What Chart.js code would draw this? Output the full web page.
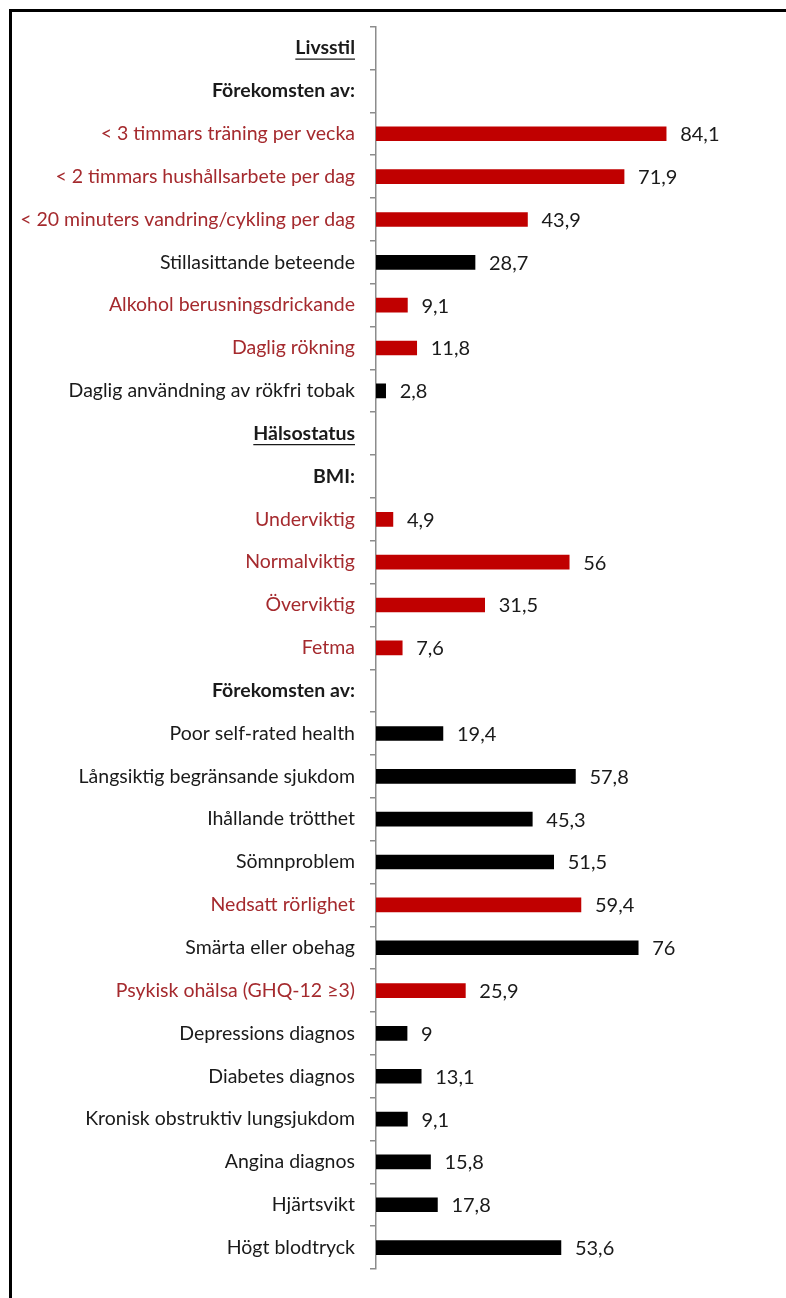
<!DOCTYPE html>
<html>
<head>
<meta charset="utf-8">
<script src="https://cdn.jsdelivr.net/npm/chart.js@4"></script>
<style>
  html, body { margin: 0; padding: 0; background: #fff; }
  #wrap { position: relative; width: 786px; height: 1298px; overflow: hidden; }
  #frame { position: absolute; left: 9px; top: 9px; width: 800px; height: 1300px;
           border-top: 3px solid #000; border-left: 3px solid #000; }
  canvas { position: absolute; left: 0; top: 0; }
</style>
</head>
<body>
<div id="wrap">
  <div id="frame"></div>
  <canvas id="chart" width="786" height="1298"></canvas>
</div>
<script>
// Rows from top to bottom, headers have no value
const labels = [
  "Livsstil",
  "Förekomsten av:",
  "< 3 timmars träning per vecka",
  "< 2 timmars hushållsarbete per dag",
  "< 20 minuters vandring/cykling per dag",
  "Stillasittande beteende",
  "Alkohol berusningsdrickande",
  "Daglig rökning",
  "Daglig användning av rökfri tobak",
  "Hälsostatus",
  "BMI:",
  "Underviktig",
  "Normalviktig",
  "Överviktig",
  "Fetma",
  "Förekomsten av:",
  "Poor self-rated health",
  "Långsiktig begränsande sjukdom",
  "Ihållande trötthet",
  "Sömnproblem",
  "Nedsatt rörlighet",
  "Smärta eller obehag",
  "Psykisk ohälsa (GHQ-12 ≥3)",
  "Depressions diagnos",
  "Diabetes diagnos",
  "Kronisk obstruktiv lungsjukdom",
  "Angina diagnos",
  "Hjärtsvikt",
  "Högt blodtryck"
];

const values = [
  null, null, 84.1, 71.9, 43.9, 28.7, 9.1, 11.8, 2.8,
  null, null, 4.9, 56, 31.5, 7.6,
  null, 19.4, 57.8, 45.3, 51.5, 59.4, 76, 25.9, 9, 13.1, 9.1, 15.8, 17.8, 53.6
];

// row kind: "title" = bold underlined, "head" = bold, "red" = highlighted, "black" = normal
const kinds = [
  "title", "head", "red", "red", "red", "black", "red", "red", "black",
  "title", "head", "red", "red", "red", "red",
  "head", "black", "black", "black", "black", "red", "black", "red", "black", "black", "black", "black", "black", "black"
];

const colors = {
  redBar: "#C00000",
  redText: "#A52A2E",
  black: "#000000",
  text: "#1a1a1a",
  axis: "#8c8c8c"
};

const labelFont = "Lato";

// value labels with decimal comma
const valueLabels = {
  id: "valueLabels",
  afterDatasetsDraw(chart) {
    const ctx = chart.ctx;
    const meta = chart.getDatasetMeta(0);
    ctx.save();
    ctx.font = "20px " + labelFont;
    ctx.fillStyle = colors.text;
    ctx.textAlign = "left";
    ctx.textBaseline = "middle";
    meta.data.forEach((bar, i) => {
      const v = values[i];
      if (v === null) return;
      ctx.fillText(String(v).replace(".", ","), bar.x + 14, bar.y + 1);
    });
    ctx.restore();
  }
};

// underline the section titles
const underline = {
  id: "underline",
  afterDraw(chart) {
    const ctx = chart.ctx;
    const y = chart.scales.y;
    ctx.save();
    ctx.font = "bold 19.5px " + labelFont;
    ctx.strokeStyle = colors.text;
    ctx.lineWidth = 1.2;
    kinds.forEach((k, i) => {
      if (k !== "title") return;
      const right = y.right - 6 - 15;
      const w = ctx.measureText(labels[i]).width;
      const py = y.getPixelForTick(i) + 11;
      ctx.beginPath();
      ctx.moveTo(right - w, py);
      ctx.lineTo(right, py);
      ctx.stroke();
    });
    ctx.restore();
  }
};

new Chart(document.getElementById("chart"), {
  type: "bar",
  data: {
    labels: labels,
    datasets: [{
      data: values,
      backgroundColor: kinds.map(k => k === "red" ? colors.redBar : colors.black),
      barThickness: 14
    }]
  },
  options: {
    indexAxis: "y",
    responsive: false,
    animation: false,
    layout: { padding: { left: 10, right: 65, top: 25, bottom: 29 } },
    plugins: { legend: { display: false }, tooltip: { enabled: false } },
    scales: {
      x: {
        display: false,
        min: 0,
        max: 100
      },
      y: {
        afterFit: (scale) => { scale.width = 366; },
        border: { display: true, color: colors.axis, width: 1.5 },
        grid: {
          offset: true,
          drawOnChartArea: false,
          color: colors.axis,
          tickLength: 6,
          lineWidth: 1.5
        },
        ticks: {
          padding: 15,
          autoSkip: false,
          color: (c) => kinds[c.index] === "red" ? colors.redText : colors.text,
          font: (c) => {
            const k = kinds[c.index];
            return {
              family: labelFont,
              size: 19.5,
              weight: (k === "title" || k === "head") ? "bold" : "normal"
            };
          }
        }
      }
    }
  },
  plugins: [valueLabels, underline]
});
</script>
</body>
</html>
